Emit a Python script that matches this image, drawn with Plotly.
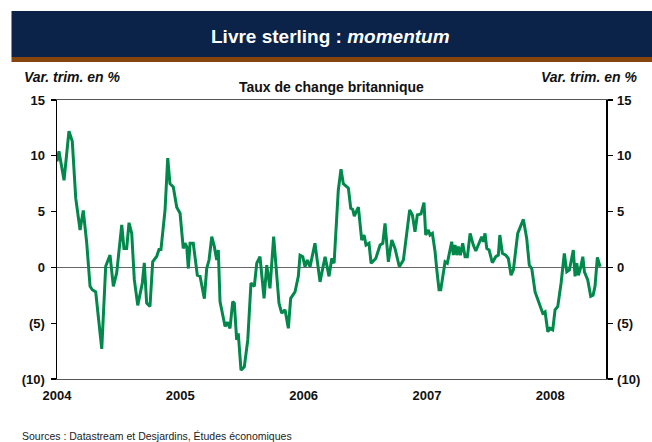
import plotly.graph_objects as go

# ---- data ----
t_years = [
    2004.000, 2004.016, 2004.057, 2004.097, 2004.124, 2004.152, 2004.187, 2004.213, 2004.241, 2004.268,
    2004.286, 2004.314, 2004.335, 2004.363, 2004.395, 2004.430, 2004.457, 2004.484, 2004.525, 2004.543,
    2004.565, 2004.584, 2004.606, 2004.627, 2004.655, 2004.679, 2004.692, 2004.708, 2004.727, 2004.754,
    2004.776, 2004.809, 2004.827, 2004.843, 2004.876, 2004.898, 2004.916, 2004.943, 2004.971, 2004.998,
    2005.024, 2005.038, 2005.052, 2005.065, 2005.079, 2005.105, 2005.138, 2005.160, 2005.195, 2005.214,
    2005.233, 2005.255, 2005.276, 2005.295, 2005.308, 2005.322, 2005.363, 2005.381, 2005.403, 2005.425,
    2005.438, 2005.457, 2005.470, 2005.492, 2005.519, 2005.547, 2005.573, 2005.600, 2005.620, 2005.646,
    2005.679, 2005.701, 2005.727, 2005.757, 2005.800, 2005.822, 2005.849, 2005.876, 2005.895, 2005.930,
    2005.957, 2005.971, 2005.993, 2006.011, 2006.030, 2006.052, 2006.092, 2006.133, 2006.174, 2006.206,
    2006.228, 2006.247, 2006.281, 2006.303, 2006.322, 2006.363, 2006.382, 2006.398, 2006.411, 2006.444,
    2006.471, 2006.490, 2006.506, 2006.530, 2006.547, 2006.585, 2006.620, 2006.642, 2006.660, 2006.687,
    2006.715, 2006.741, 2006.776, 2006.809, 2006.860, 2006.882, 2006.903, 2006.922, 2006.952, 2006.976,
    2006.990, 2007.011, 2007.025, 2007.044, 2007.066, 2007.080, 2007.098, 2007.112, 2007.133, 2007.147,
    2007.165, 2007.201, 2007.214, 2007.228, 2007.242, 2007.255, 2007.271, 2007.290, 2007.309, 2007.328,
    2007.350, 2007.376, 2007.396, 2007.417, 2007.444, 2007.457, 2007.471, 2007.485, 2007.504, 2007.530,
    2007.558, 2007.579, 2007.591, 2007.612, 2007.639, 2007.660, 2007.682, 2007.701, 2007.736, 2007.782,
    2007.809, 2007.830, 2007.850, 2007.877, 2007.903, 2007.939, 2007.958, 2007.980, 2007.998, 2008.020,
    2008.039, 2008.061, 2008.088, 2008.114, 2008.134, 2008.155, 2008.187, 2008.201, 2008.215, 2008.228,
    2008.247, 2008.264, 2008.277, 2008.304, 2008.328, 2008.347, 2008.363, 2008.382, 2008.404,
]
var_trim = [
    9.5, 10.4, 7.8, 12.2, 11.3, 6.2, 3.35, 5.1, 2.2, -1.7,
    -2.0, -2.2, -4.4, -7.3, 0.1, 1.1, -1.7, -0.5, 3.8, 1.7,
    1.7, 4.0, 3.05, -1.1, -3.4, -2.0, -1.4, 0.4, -3.2, -3.5,
    0.5, 1.0, 1.6, 1.6, 5.1, 9.8, 7.5, 7.2, 5.4, 4.85,
    1.7, 2.16, 1.86, -0.1, 2.16, 2.16, -0.7, -0.8, -2.8, -0.1,
    0.66, 2.75, 1.86, 0.66, 1.56, -3.07, -5.3, -4.9, -5.46, -3.07,
    -3.2, -6.5, -5.9, -9.2, -8.9, -6.5, -1.4, -1.7, 0.37, 0.96,
    -2.77, 0.2, -1.87, 2.75, -3.2, -4.1, -3.8, -5.46, -2.77, -2.2,
    -0.8, 1.1, 0.96, 0.06, 0.66, 0.06, 2.16, -1.3, 0.96, -0.8,
    0.8, 0.37, 6.9, 8.8, 7.5, 7.1, 5.3, 5.2, 4.6, 5.4,
    2.45, 2.9, 2.0, 2.16, 0.37, 0.8, 2.0, 2.16, 3.95, 0.5,
    2.45, 1.7, 0.06, 0.66, 5.15, 4.7, 3.2, 4.7, 4.8, 5.8,
    2.9, 3.35, 2.9, 3.05, 1.4, -0.23, -2.0, -2.0, -0.4, 0.5,
    0.37, 2.3, 1.1, 2.0, 1.1, 1.86, 1.1, 2.16, 0.96, 0.96,
    3.05, 2.0, 1.47, 2.0, 2.75, 2.3, 3.05, 1.7, 1.56, 0.42,
    0.96, 1.1, 2.9, 1.26, 1.1, 0.8, -0.7, -0.23, 3.05, 4.3,
    2.6, 0.2, -0.1, -2.2, -3.07, -4.1, -3.97, -5.76, -5.46, -5.6,
    -3.8, -3.5, -1.4, 1.26, -0.4, -0.23, 1.56, -0.8, 0.37, -0.7,
    0.0, 0.96, -0.4, -1.13, -2.6, -2.5, -1.7, 0.9, 0.06,
]
year_ticks = [2004, 2005, 2006, 2007, 2008]
year_labels = ["2004", "2005", "2006", "2007", "2008"]
y_ticks = [-10, -5, 0, 5, 10, 15]
y_labels = ["(10)", "(5)", "0", "5", "10", "15"]

W, H = 652, 442
FONT = "Liberation Sans, Arial, sans-serif"
GREEN = "#00894B"

fig = go.Figure()
fig.add_trace(go.Scatter(x=t_years, y=var_trim, mode="lines",
                         line=dict(color=GREEN, width=3), hoverinfo="skip",
                         showlegend=False))
# invisible twin so the right axis is drawn
fig.add_trace(go.Scatter(x=t_years[:1], y=var_trim[:1], mode="lines", yaxis="y2",
                         line=dict(width=0), hoverinfo="skip", showlegend=False))

x0, x1 = 57 / W, 606 / W
y0, y1 = 1 - 379 / H, 1 - 100 / H

tickfont = dict(family=FONT, size=13, color="#111", weight="bold")
yaxis_common = dict(range=[-10, 15], tickmode="array", tickvals=y_ticks, ticktext=y_labels,
                    ticks="outside", ticklen=5, tickwidth=1.2, tickcolor="#000",
                    showline=True, linecolor="#000", linewidth=1.5, showgrid=False,
                    tickfont=tickfont, domain=[y0, y1], fixedrange=True, automargin=False)

fig.update_layout(
    template="none",
    width=W, height=H, margin=dict(l=0, r=0, t=0, b=0, pad=0, autoexpand=False),
    paper_bgcolor="white", plot_bgcolor="white",
    xaxis=dict(domain=[x0, x1], range=[2004, 2008.452], tickmode="array",
               tickvals=year_ticks, ticktext=year_labels, ticks="",
               showline=True, linecolor="#555", linewidth=1.2, mirror=True,
               showgrid=False, zeroline=False, tickfont=tickfont, ticklabelstandoff=4,
               automargin=False, fixedrange=True),
    yaxis=dict(**yaxis_common, side="left", zeroline=True, zerolinecolor="#666",
               zerolinewidth=1.5, ticklabelstandoff=3),
    yaxis2=dict(**yaxis_common, side="right", overlaying="y", anchor="x",
                zeroline=False, ticklabelstandoff=2),
    shapes=[
        dict(type="rect", xref="paper", yref="paper", x0=11.5 / W, x1=1,
             y0=1 - 57 / H, y1=1 - 11 / H, fillcolor="#0B2249", line=dict(width=0), layer="below"),
        dict(type="rect", xref="paper", yref="paper", x0=11.5 / W, x1=1,
             y0=1 - 62 / H, y1=1 - 57 / H, fillcolor="#86430C", line=dict(width=0), layer="below"),
    ],
    annotations=[
        dict(text="<b>Livre sterling : <i>momentum</i></b>", xref="paper", yref="paper",
             x=330 / W, y=1 - 36 / H, xanchor="center", yanchor="middle", showarrow=False,
             font=dict(family=FONT, size=19, color="white")),
        dict(text="<b><i>Var. trim. en %</i></b>", xref="paper", yref="paper",
             x=22 / W, y=1 - 77 / H, xanchor="left", yanchor="middle", showarrow=False,
             font=dict(family=FONT, size=14, color="#111")),
        dict(text="<b><i>Var. trim. en %</i></b>", xref="paper", yref="paper",
             x=640 / W, y=1 - 77 / H, xanchor="right", yanchor="middle", showarrow=False,
             font=dict(family=FONT, size=14, color="#111")),
        dict(text="<b>Taux de change britannique</b>", xref="paper", yref="paper",
             x=332 / W, y=1 - 87 / H, xanchor="center", yanchor="middle", showarrow=False,
             font=dict(family=FONT, size=14, color="#111")),
        dict(text="Sources : Datastream et Desjardins, Études économiques", xref="paper", yref="paper",
             x=20 / W, y=1 - 436 / H, xanchor="left", yanchor="middle", showarrow=False,
             font=dict(family=FONT, size=10.5, color="#222")),
    ],
)

fig.write_html("out.html", config={"displayModeBar": False, "staticPlot": True},
               post_script="document.body.style.margin='0';document.body.style.padding='0';")
